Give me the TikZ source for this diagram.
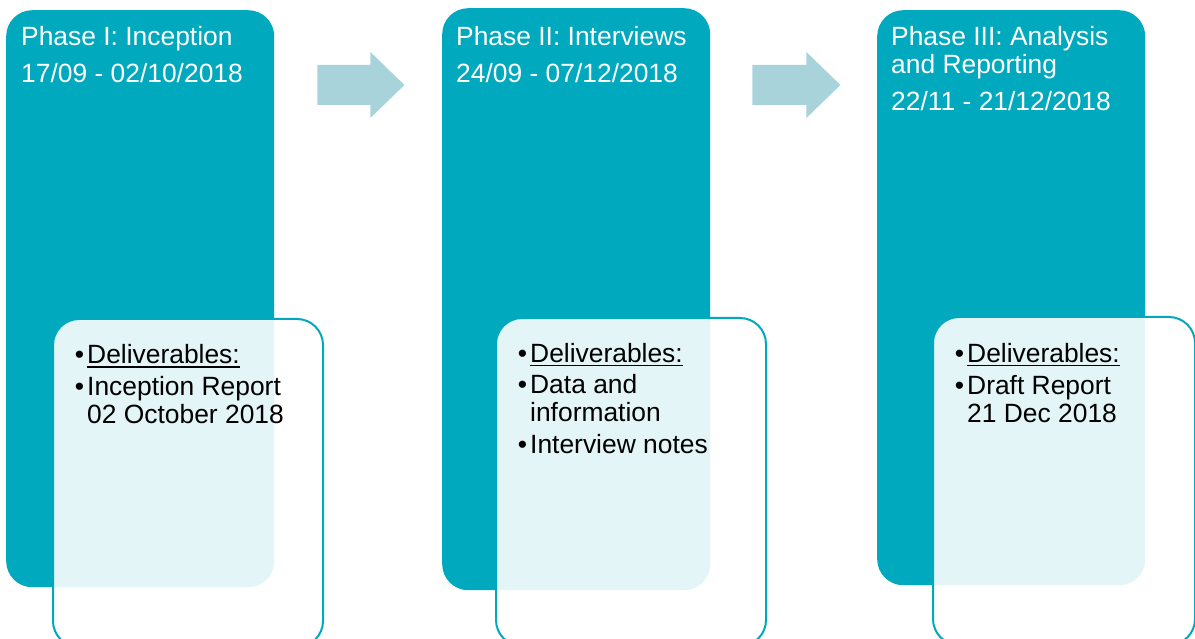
\documentclass[tikz,border=0pt]{standalone}
\usepackage{fontspec}
\setmainfont{Liberation Sans}
\usetikzlibrary{positioning,calc}
\definecolor{phaseteal}{HTML}{00A9BD}
\definecolor{arrowblue}{HTML}{A9D3DB}
\tikzset{
  phase/.style={fill=phaseteal, rounded corners=26pt, minimum width=268pt, anchor=north west, inner sep=0pt},
  delbox/.style={draw=phaseteal, line width=2pt, fill=white, fill opacity=0.89, rounded corners=26pt, minimum height=328pt, anchor=north west, inner sep=0pt},
  headtext/.style={text=white, font=\fontsize{26.4}{30}\selectfont, inner sep=0pt, anchor=base west},
  deltext/.style={text=black, font=\fontsize{26.4}{30}\selectfont, inner sep=0pt, anchor=base west},
  blockarrow/.style={fill=arrowblue}
}
\newcommand*{\ulin}[1]{\setbox0\hbox{#1}\rlap{\rule[-4.5pt]{\wd0}{1.6pt}}\box0}
\newcommand*{\bul}{\llap{\textbullet\hspace{3pt}}}

\begin{document}
\begin{tikzpicture}[x=1pt,y=-1pt]
\useasboundingbox (0,0) rectangle (1195,639);
\clip (0,0) rectangle (1195,639);
% Phase boxes
\node[phase, minimum height=577pt] (p1) at (6,10) {};
\node[phase, minimum height=582pt] (p2) at (442,8) {};
\node[phase, minimum height=575pt] (p3) at (877,10) {};
% Arrows between the phases
\fill[blockarrow] ([shift={(43,55)}]p1.north east) -- ++(53,0) -- ++(0,-13) -- ++(34,33) -- ++(-34,33) -- ++(0,-13) -- ++(-53,0) -- cycle;
\fill[blockarrow] ([shift={(42,57)}]p2.north east) -- ++(54,0) -- ++(0,-13) -- ++(34,33) -- ++(-34,33) -- ++(0,-13) -- ++(-54,0) -- cycle;
% Phase titles and dates
\node[headtext] (t1) at ([shift={(15,36)}]p1.north west) {Phase I: Inception};
\node[headtext] (d1) at ([yshift=-37pt]t1.base west) {17/09 - 02/10/2018};
\node[headtext] (t2) at ([shift={(14,38)}]p2.north west) {Phase II: Interviews};
\node[headtext] (d2) at ([yshift=-37pt]t2.base west) {24/09 - 07/12/2018};
\node[headtext] (t3) at ([shift={(14,36)}]p3.north west) {Phase III: Analysis};
\node[headtext] (t3b) at ([yshift=-28pt]t3.base west) {and Reporting};
\node[headtext] (d3) at ([yshift=-37pt]t3b.base west) {22/11 - 21/12/2018};
% Deliverables boxes
\node[delbox, minimum width=270pt] (del1) at (52,318) {};
\node[delbox, minimum width=270pt] (del2) at (495,317) {};
\node[delbox, minimum width=262pt] (del3) at (932,316) {};
% Deliverables text
\node[deltext] (l1a) at ([shift={(35,45)}]del1.north west) {\bul\ulin{Deliverables:}};
\node[deltext] (l1b) at ([yshift=-32pt]l1a.base west) {\bul Inception Report};
\node[deltext] (l1c) at ([yshift=-28pt]l1b.base west) {02 October 2018};
\node[deltext] (l2a) at ([shift={(35,45)}]del2.north west) {\bul\ulin{Deliverables:}};
\node[deltext] (l2b) at ([yshift=-31pt]l2a.base west) {\bul Data and};
\node[deltext] (l2c) at ([yshift=-28pt]l2b.base west) {information};
\node[deltext] (l2d) at ([yshift=-32pt]l2c.base west) {\bul Interview notes};
\node[deltext] (l3a) at ([shift={(35,46)}]del3.north west) {\bul\ulin{Deliverables:}};
\node[deltext] (l3b) at ([yshift=-32pt]l3a.base west) {\bul Draft Report};
\node[deltext] (l3c) at ([yshift=-28pt]l3b.base west) {21 Dec 2018};
\end{tikzpicture}
\end{document}
